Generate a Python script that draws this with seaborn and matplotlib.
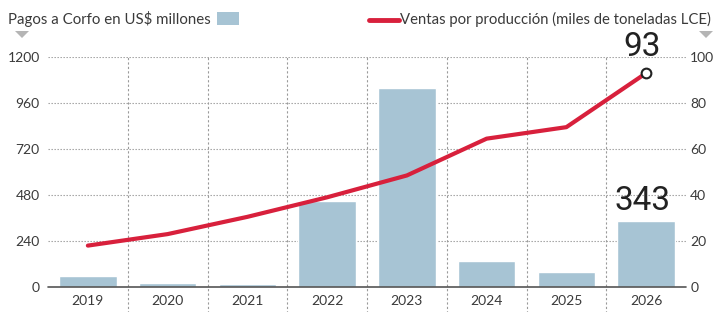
import matplotlib
matplotlib.use("Agg")
import matplotlib.pyplot as plt
import seaborn as sns
import pandas as pd
from matplotlib.patches import Rectangle, Polygon
from matplotlib.lines import Line2D

years = ["2019", "2020", "2021", "2022", "2023", "2024", "2025", "2026"]
pagos = [55, 22, 14, 450, 1040, 136, 80, 343]
ventas = [18, 23, 30.5, 39, 48.5, 64.5, 69.5, 93]
left_ticks = [0, 240, 480, 720, 960, 1200]
right_ticks = [0, 20, 40, 60, 80, 100]
label_bar = "Pagos a Corfo en US$ millones"
label_line = "Ventas por producción (miles de toneladas LCE)"

sns.set_theme(style="white")
plt.rcParams['font.family'] = ['Lato', 'DejaVu Sans']

big_font = dict(family=["Roboto", "DejaVu Sans"], fontweight="normal")

BAR = "#a7c4d4"
RED = "#d8203c"
TXT = "#3a3a3a"
GRID = "#9a9a9a"

fig = plt.figure(figsize=(7.15, 3.12), dpi=100)
W, H = 715, 312
ax = fig.add_axes([48 / W, 1 - 287 / H, 638 / W, (287 - 57) / H])

df = pd.DataFrame({"year": years, "pagos": pagos, "ventas": ventas})
sns.barplot(data=df, x="year", y="pagos", order=years, color=BAR,
            saturation=1, width=0.72, ax=ax, zorder=2)
ax.set_xlim(-0.5, len(years) - 0.5)
ax.set_ylim(0, 1200)
ax.set_yticks(left_ticks)
ax.set_yticklabels([str(t) for t in left_ticks])
ax.set_xlabel("")
ax.set_ylabel("")
for s in ax.spines.values():
    s.set_visible(False)
ax.tick_params(axis="both", length=0, labelsize=10, colors=TXT, pad=6)

for t in left_ticks[1:]:
    ax.axhline(t, color=GRID, lw=0.8, ls=(0, (1.2, 1.5)), zorder=1)
ax.axhline(0, color="#555555", lw=1.2, zorder=3, clip_on=False)
for i in range(len(years) - 1):
    ax.plot([i + 0.5, i + 0.5], [-0.115, 1.0], transform=ax.get_xaxis_transform(),
            color=GRID, lw=0.8, ls=(0, (2, 2)), clip_on=False, zorder=1)

ax2 = ax.twinx()
xpos = list(range(len(years)))
sns.lineplot(x=xpos, y=ventas, ax=ax2, color=RED, lw=3.0, zorder=4)
ax2.plot(xpos[-1], ventas[-1], marker="o", ms=7, mfc="white", mec="#222222",
         mew=1.5, zorder=5, clip_on=False)
ax2.set_ylim(0, 100)
ax2.set_yticks(right_ticks)
ax2.set_yticklabels([str(t) for t in right_ticks])
for s in ax2.spines.values():
    s.set_visible(False)
ax2.tick_params(axis="y", length=0, labelsize=10, colors=TXT, pad=3)
ax2.set_xlim(-0.5, len(years) - 0.5)

ax2.text(xpos[-1] - 0.05, ventas[-1] + 4.2, "93", ha="center", va="bottom",
         fontsize=24, color="#222222", clip_on=False, **big_font)
ax.text(xpos[-1] - 0.05, pagos[-1] + 22, str(pagos[-1]), ha="center", va="bottom",
        fontsize=24, color="#222222", **big_font)

fig.text(8 / W, 1 - 19 / H, label_bar, ha="left", va="center", fontsize=10.8, color=TXT)
fig.patches.append(Rectangle((217 / W, 1 - 25 / H), 22 / W, 13 / H, transform=fig.transFigure,
                             facecolor=BAR, edgecolor="none"))
fig.lines.append(Line2D([369 / W, 399 / W], [1 - 20 / H, 1 - 20 / H], transform=fig.transFigure,
                        color=RED, lw=3.5))
fig.text(400 / W, 1 - 19 / H, label_line, ha="left", va="center", fontsize=10.7, color=TXT)

for cx in (22, 706):
    fig.patches.append(Polygon([((cx - 7) / W, 1 - 31 / H), ((cx + 7) / W, 1 - 31 / H),
                                (cx / W, 1 - 38 / H)], closed=True, transform=fig.transFigure,
                               facecolor="#b5b5b5", edgecolor="none"))

fig.savefig("out.png", dpi=100)
